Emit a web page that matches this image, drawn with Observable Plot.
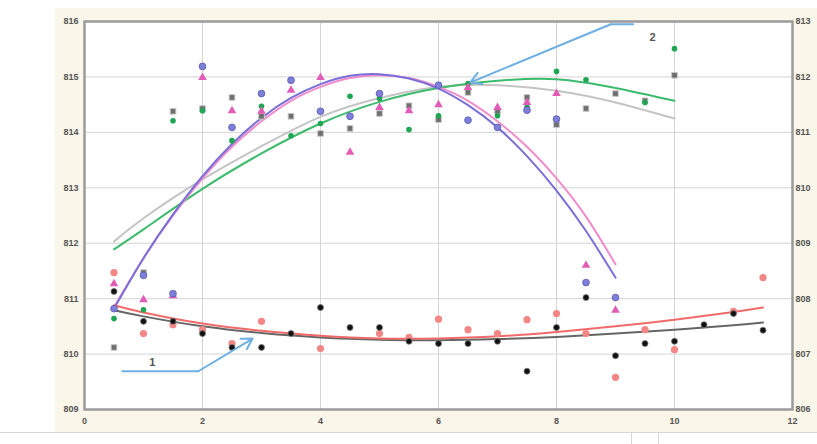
<!DOCTYPE html>
<html><head><meta charset="utf-8">
<script src="https://cdn.jsdelivr.net/npm/d3@7"></script>
<script src="https://cdn.jsdelivr.net/npm/@observablehq/plot@0.6"></script>
<style>
html,body{margin:0;padding:0;background:#fff;}
#wrap{position:relative;width:817px;height:444px;overflow:hidden;}
#panel{position:absolute;left:55px;top:8px;width:762px;height:424px;background:#fbf6ea;}
#rule{position:absolute;left:0;top:432px;width:817px;height:1px;background:#d6d6d6;}
.tab{position:absolute;top:433px;width:1px;height:11px;background:#d6d6d6;}
#chart{position:absolute;left:0;top:0;}
</style></head><body>
<div id="wrap"><div id="panel"></div><div id="rule"></div>
<div class="tab" style="left:631px"></div><div class="tab" style="left:658px"></div>
<div id="chart"></div></div>
<script>
// Tick values for the two vertical axes and the horizontal axis
const leftTicks = [809, 810, 811, 812, 813, 814, 815, 816];
const axisOffset = 3; // right axis = left axis - 3
const xTicks = [0, 2, 4, 6, 8, 10, 12];

// Group 2 (left axis): measured points [x, value]
const blueDots = [[0.5,810.82],[1,811.42],[1.5,811.09],[2,815.19],[2.5,814.09],[3,814.70],[3.5,814.94],[4,814.38],[4.5,814.29],[5,814.70],[6,814.85],[6.5,814.22],[7,814.09],[7.5,814.40],[8,814.24],[8.5,811.29],[9,811.02]];
const pinkDots = [[0.5,811.27],[1,810.98],[1.5,811.05],[2,814.99],[2.5,814.39],[3,814.38],[3.5,814.76],[4,814.99],[4.5,813.64],[5,814.45],[5.5,814.39],[6,814.50],[6.5,814.81],[7,814.45],[7.5,814.54],[8,814.70],[8.5,811.60],[9,810.79]];
const greenDots = [[0.5,810.64],[1,810.80],[1.5,814.21],[2,814.39],[2.5,813.85],[3,814.47],[3.5,813.94],[4,814.16],[4.5,814.65],[5,814.61],[5.5,814.05],[6,814.30],[6.5,814.88],[7,814.30],[7.5,814.45],[8,815.10],[8.5,814.95],[9.5,814.54],[10,815.51]];
const grayDots = [[0.5,810.12],[1,811.47],[1.5,814.38],[2,814.43],[2.5,814.63],[3,814.29],[3.5,814.29],[4,813.98],[4.5,814.07],[5,814.34],[5.5,814.48],[6,814.23],[6.5,814.72],[7,814.38],[7.5,814.63],[8,814.14],[8.5,814.43],[9,814.70],[9.5,814.57],[10,815.03]];

// Group 2 trend curves
const blueFit = [[0.5,810.82],[1,811.73],[1.5,812.52],[2,813.21],[2.5,813.79],[3,814.26],[3.5,814.62],[4,814.87],[4.5,815.02],[5,815.05],[5.5,814.97],[6,814.79],[6.5,814.49],[7,814.09],[7.5,813.57],[8,812.95],[8.5,812.22],[9,811.38]];
const pinkFit = [[0.5,810.85],[1,811.73],[1.5,812.50],[2,813.17],[2.5,813.74],[3,814.20],[3.5,814.57],[4,814.82],[4.5,814.98],[5,815.03],[5.5,814.98],[6,814.82],[6.5,814.57],[7,814.20],[7.5,813.74],[8,813.17],[8.5,812.48],[9,811.62]];
const greenFit = [[0.5,811.89],[1,812.25],[2,812.98],[3,813.62],[4,814.16],[5,814.55],[6,814.80],[7,814.93],[8,814.96],[9,814.80],[10,814.57]];
const grayFit = [[0.5,812.03],[1,812.45],[2,813.15],[3,813.75],[4,814.28],[5,814.62],[6,814.82],[7,814.85],[8,814.75],[9,814.54],[10,814.25]];

// Group 1 (right axis): measured points [x, value]
const blackDots = [[0.5,808.13],[1,807.59],[1.5,807.59],[2,807.37],[2.5,807.12],[3,807.12],[3.5,807.37],[4,807.84],[4.5,807.48],[5,807.48],[5.5,807.23],[6,807.19],[6.5,807.19],[7,807.23],[7.5,806.69],[8,807.48],[8.5,808.02],[9,806.97],[9.5,807.19],[10,807.23],[10.5,807.53],[11,807.73],[11.5,807.43]];
const redDots = [[0.5,808.47],[1,807.37],[1.5,807.53],[2,807.44],[2.5,807.19],[3,807.59],[4,807.10],[5,807.37],[5.5,807.30],[6,807.63],[6.5,807.44],[7,807.37],[7.5,807.62],[8,807.73],[8.5,807.37],[9,806.58],[9.5,807.44],[10,807.08],[11,807.77],[11.5,808.38]];

// Group 1 trend curves
const blackFit = [[0.5,807.79],[1,807.68],[2,807.50],[3,807.38],[4,807.30],[5,807.26],[6,807.25],[7,807.27],[8,807.31],[9,807.37],[10,807.44],[11,807.52],[11.5,807.57]];
const redFit = [[0.5,807.88],[1,807.75],[2,807.55],[3,807.42],[4,807.33],[5,807.28],[6,807.28],[7,807.32],[8,807.40],[9,807.50],[10,807.62],[11,807.76],[11.5,807.84]];

// Callouts (left-axis units)
const callout1Line = [[0.64,809.69],[1.93,809.69]];
const callout1Arrow = [{x1:1.93, y1:809.69, x2:2.85, y2:810.28}];
const callout1Label = [{x:1.15, y:809.84, text:"1"}];
const callout2Line = [[9.3,815.95],[8.92,815.95]];
const callout2Arrow = [{x1:8.92, y1:815.95, x2:6.54, y2:814.90}];
const callout2Label = [{x:9.63, y:815.72, text:"2"}];

const toRight = d => ({x: d[0], y: d[1] + axisOffset});
const toLeft = d => ({x: d[0], y: d[1]});

const lineOf = (pts, conv, stroke, w = 2) =>
  Plot.line(pts.map(conv), {x: "x", y: "y", stroke, strokeWidth: w, curve: "natural"});

const calloutColor = "#6fb0e2";

const chart = Plot.plot({
  width: 817,
  height: 444,
  marginLeft: 84,
  marginRight: 25,
  marginTop: 21,
  marginBottom: 35,
  style: {background: "transparent", fontFamily: "'Liberation Sans', Arial, sans-serif", fontSize: "9px", fontWeight: "bold"},
  x: {domain: [0, 12]},
  y: {domain: [809, 816]},
  marks: [
    Plot.frame({fill: "white"}),
    Plot.gridX([2, 4, 6, 8, 10], {stroke: "#d4d4d4", strokeOpacity: 1}),
    Plot.gridY([810, 811, 812, 813, 814, 815], {stroke: "#d4d4d4", strokeOpacity: 1}),
    Plot.frame({stroke: "#9b9b9b", strokeWidth: 2.5}),
    Plot.axisY({ticks: leftTicks, anchor: "left", tickSize: 0, tickPadding: 6, fill: "#555", label: null, tickFormat: d => String(d)}),
    Plot.axisY({ticks: leftTicks, anchor: "right", tickSize: 0, tickPadding: 3, fill: "#555", label: null, tickFormat: d => String(d - axisOffset)}),
    Plot.axisX({ticks: xTicks, tickSize: 0, tickPadding: 8, fill: "#555", label: null}),

    // trend curves
    lineOf(grayFit, toLeft, "#c4c4c4"),
    lineOf(greenFit, toLeft, "#3dbb6c"),
    lineOf(pinkFit, toLeft, "#f08ccc"),
    lineOf(blueFit, toLeft, "#7a6fd8"),
    lineOf(blackFit, toRight, "#666"),
    lineOf(redFit, toRight, "#f06a6a"),

    // measured points
    Plot.dot(grayDots.map(toLeft), {x: "x", y: "y", symbol: "square", r: 3.2, fill: "#6e6e6e", stroke: "#c8c8c8", strokeWidth: 1}),
    Plot.dot(greenDots.map(toLeft), {x: "x", y: "y", r: 2.8, fill: "#1fa653"}),
    Plot.dot(pinkDots.map(toLeft), {x: "x", y: "y", symbol: "triangle", r: 3.2, fill: "#e25cb6"}),
    Plot.dot(blueDots.map(toLeft), {x: "x", y: "y", r: 3.4, fill: "#7d7fd8", stroke: "#5a5bb8", strokeWidth: 0.8}),
    Plot.dot(redDots.map(toRight), {x: "x", y: "y", r: 3.6, fill: "#f48686"}),
    Plot.dot(blackDots.map(toRight), {x: "x", y: "y", r: 3, fill: "#111", stroke: "#777", strokeWidth: 0.8}),

    // callouts
    Plot.line(callout1Line.map(toLeft), {x: "x", y: "y", stroke: calloutColor, strokeWidth: 2}),
    Plot.arrow(callout1Arrow, {x1: "x1", y1: "y1", x2: "x2", y2: "y2", stroke: calloutColor, strokeWidth: 2, headLength: 9}),
    Plot.text(callout1Label, {x: "x", y: "y", text: "text", fontSize: 11, fill: "#555"}),
    Plot.line(callout2Line.map(toLeft), {x: "x", y: "y", stroke: calloutColor, strokeWidth: 2}),
    Plot.arrow(callout2Arrow, {x1: "x1", y1: "y1", x2: "x2", y2: "y2", stroke: calloutColor, strokeWidth: 2, headLength: 9}),
    Plot.text(callout2Label, {x: "x", y: "y", text: "text", fontSize: 11, fill: "#555"})
  ]
});

document.getElementById("chart").appendChild(chart);
</script>
</body></html>
